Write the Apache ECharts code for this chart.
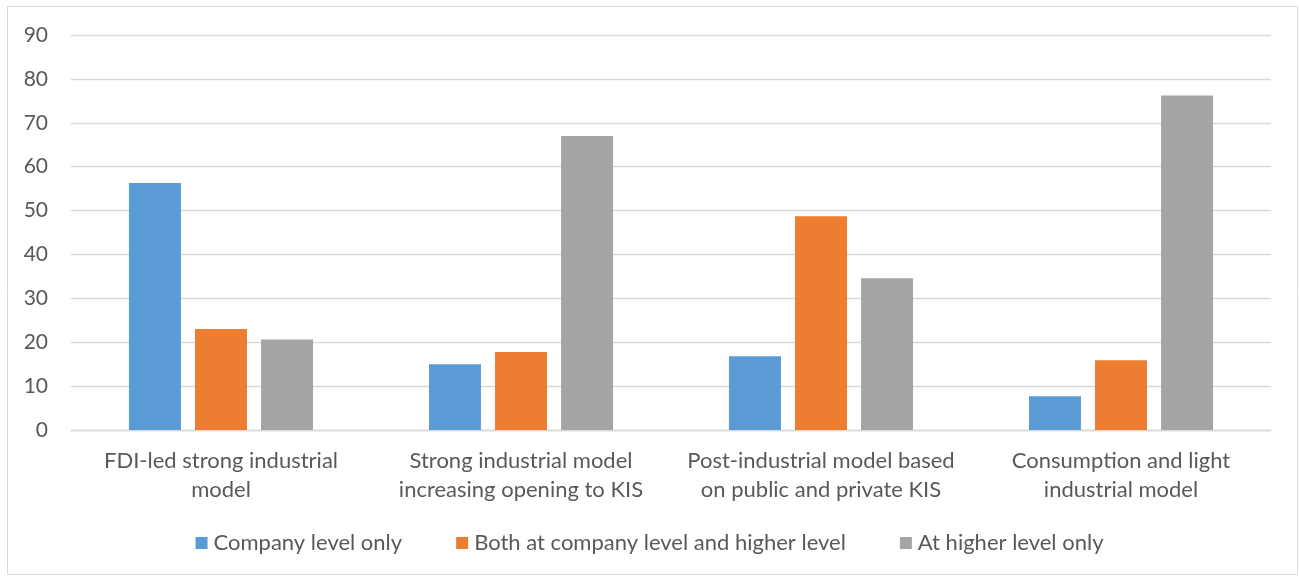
<!DOCTYPE html>
<html>
<head>
<meta charset="utf-8">
<script src="https://cdn.jsdelivr.net/npm/echarts@6/dist/echarts.min.js"></script>
<style>
html,body{margin:0;padding:0;background:#fff;}
#chart{width:1299px;height:577px;}
</style>
</head>
<body>
<div id="chart"></div>
<script>
const categories = [
  "FDI-led strong industrial\nmodel",
  "Strong industrial model\nincreasing opening to KIS",
  "Post-industrial model based\non public and private KIS",
  "Consumption and light\nindustrial model"
];
const seriesNames = ["Company level only", "Both at company level and higher level", "At higher level only"];
const companyOnly = [56.3, 15.0, 16.8, 7.7];
const bothLevels = [23.0, 17.8, 48.7, 15.9];
const higherOnly = [20.6, 67.0, 34.6, 76.2];
const yTicks = { min: 0, max: 90, interval: 10 };

const colors = ["#5B9BD5", "#ED7D31", "#A5A5A5"];
const FONT = "Lato";
const chart = echarts.init(document.getElementById('chart'), null, {renderer: 'canvas'});
const dataSets = [companyOnly, bothLevels, higherOnly];
chart.setOption({
  animation: false,
  textStyle: { fontFamily: FONT },
  graphic: [{
    type: 'rect', shape: { x: 7.5, y: 6.5, width: 1290, height: 568 },
    style: { fill: null, stroke: '#d9d9d9', lineWidth: 1 }, silent: true, z: -1
  }],
  grid: { left: 71, right: 28, top: 35, bottom: 147, containLabel: false },
  legend: {
    data: seriesNames,
    top: 527, left: 'center',
    icon: 'rect', itemWidth: 12, itemHeight: 12, itemGap: 54,
    textStyle: { fontFamily: FONT, fontSize: 22, color: '#595959', padding: [0,0,0,1] }
  },
  xAxis: {
    type: 'category', data: categories,
    axisLine: { lineStyle: { color: '#d9d9d9', width: 1.3 } },
    axisTick: { show: false },
    axisLabel: { fontFamily: FONT, fontSize: 22, color: '#595959', lineHeight: 29, margin: 16, interval: 0 }
  },
  yAxis: {
    type: 'value', min: yTicks.min, max: yTicks.max, interval: yTicks.interval,
    axisLine: { show: false }, axisTick: { show: false },
    axisLabel: { fontFamily: FONT, fontSize: 21, color: '#595959', margin: 23 },
    splitLine: { lineStyle: { color: '#d9d9d9', width: 1.3 } }
  },
  series: seriesNames.map((n, i) => ({
    name: n, type: 'bar', data: dataSets[i],
    barWidth: 52, barGap: '27%',
    itemStyle: { color: colors[i] }
  }))
});
</script>
</body>
</html>
